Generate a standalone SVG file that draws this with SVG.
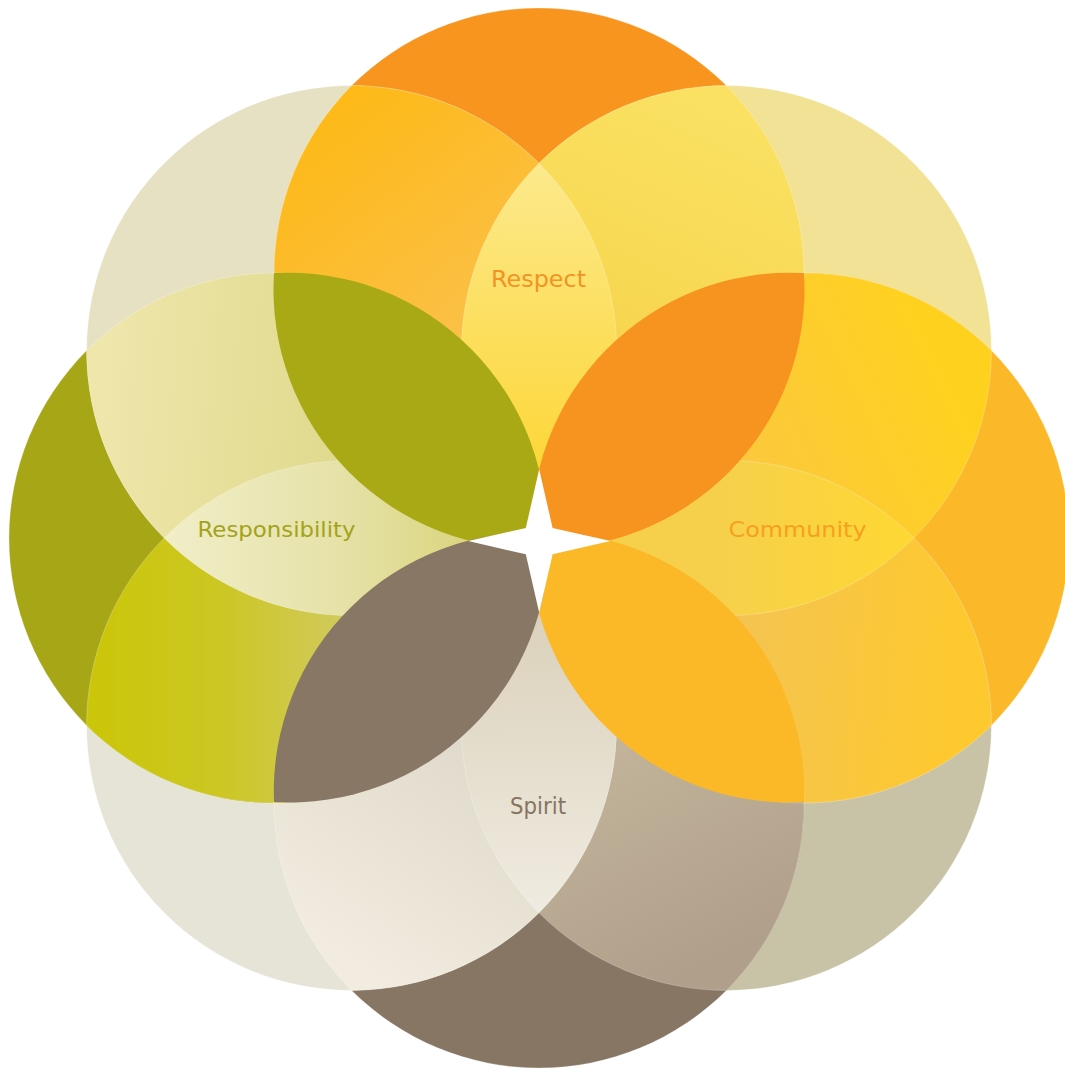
<svg xmlns="http://www.w3.org/2000/svg" width="1065" height="1068" viewBox="0 0 1065 1068">
<style>
.lbl{font-family:"DejaVu Sans","Liberation Sans",sans-serif;text-anchor:middle}
.edge{fill:none;stroke:#fff;stroke-opacity:0.3;stroke-width:0.8}
</style>
<defs>
<circle id="cT" cx="539" cy="273" r="265"/>
<circle id="cUR" cx="726.4" cy="350.6" r="265"/>
<circle id="cR" cx="804" cy="538" r="265"/>
<circle id="cLR" cx="726.4" cy="725.4" r="265"/>
<circle id="cB" cx="539" cy="803" r="265"/>
<circle id="cLL" cx="351.6" cy="725.4" r="265"/>
<circle id="cL" cx="274" cy="538" r="265"/>
<circle id="cUL" cx="351.6" cy="350.6" r="265"/>
<clipPath id="kT"><use href="#cT"/></clipPath>
<clipPath id="kUR"><use href="#cUR"/></clipPath>
<clipPath id="kR"><use href="#cR"/></clipPath>
<clipPath id="kLR"><use href="#cLR"/></clipPath>
<clipPath id="kB"><use href="#cB"/></clipPath>
<clipPath id="kLL"><use href="#cLL"/></clipPath>
<clipPath id="kL"><use href="#cL"/></clipPath>
<clipPath id="kUL"><use href="#cUL"/></clipPath>
<linearGradient id="gTUL" gradientUnits="userSpaceOnUse" x1="300" y1="100" x2="480" y2="330"><stop offset="0" stop-color="#FDB913"/><stop offset="1" stop-color="#FBC048"/></linearGradient>
<linearGradient id="gTUR" gradientUnits="userSpaceOnUse" x1="700" y1="100" x2="600" y2="330"><stop offset="0" stop-color="#FAE162"/><stop offset="1" stop-color="#F7D64F"/></linearGradient>
<linearGradient id="gURR" gradientUnits="userSpaceOnUse" x1="950" y1="380" x2="740" y2="480"><stop offset="0" stop-color="#FFD11F"/><stop offset="1" stop-color="#FBC83E"/></linearGradient>
<linearGradient id="gRLR" gradientUnits="userSpaceOnUse" x1="740" y1="620" x2="960" y2="640"><stop offset="0" stop-color="#F4C451"/><stop offset="1" stop-color="#FEC92E"/></linearGradient>
<linearGradient id="gLRB" gradientUnits="userSpaceOnUse" x1="600" y1="720" x2="720" y2="960"><stop offset="0" stop-color="#C4B59C"/><stop offset="1" stop-color="#B0A08B"/></linearGradient>
<linearGradient id="gBLL" gradientUnits="userSpaceOnUse" x1="470" y1="740" x2="330" y2="950"><stop offset="0" stop-color="#DFDACB"/><stop offset="1" stop-color="#F2ECE0"/></linearGradient>
<linearGradient id="gLLL" gradientUnits="userSpaceOnUse" x1="100" y1="650" x2="345" y2="650"><stop offset="0" stop-color="#CBC60A"/><stop offset="0.5" stop-color="#CCC724"/><stop offset="1" stop-color="#D1CA5E"/></linearGradient>
<linearGradient id="gLUL" gradientUnits="userSpaceOnUse" x1="100" y1="400" x2="340" y2="420"><stop offset="0" stop-color="#EEE6AB"/><stop offset="1" stop-color="#E0DA8E"/></linearGradient>
<linearGradient id="gResp" gradientUnits="userSpaceOnUse" x1="539" y1="165" x2="539" y2="460"><stop offset="0" stop-color="#FCE98C"/><stop offset="1" stop-color="#FDD73A"/></linearGradient>
<linearGradient id="gComm" gradientUnits="userSpaceOnUse" x1="720" y1="540" x2="915" y2="540"><stop offset="0" stop-color="#F6D04B"/><stop offset="1" stop-color="#FED832"/></linearGradient>
<linearGradient id="gSpir" gradientUnits="userSpaceOnUse" x1="539" y1="612" x2="539" y2="910"><stop offset="0" stop-color="#DBD1BB"/><stop offset="1" stop-color="#EFEBE0"/></linearGradient>
<linearGradient id="gRes" gradientUnits="userSpaceOnUse" x1="165" y1="540" x2="470" y2="540"><stop offset="0" stop-color="#F1EEC9"/><stop offset="0.6" stop-color="#E5E1A6"/><stop offset="1" stop-color="#DAD57E"/></linearGradient>
</defs>
<rect width="1065" height="1068" fill="#fff"/>
<g id="circles">
<use href="#cT" fill="#F7951F"/>
<use href="#cUR" fill="#F1E296"/>
<use href="#cR" fill="#FBB829"/>
<use href="#cLR" fill="#C8C3A6"/>
<use href="#cB" fill="#887664"/>
<use href="#cLL" fill="#E6E4D7"/>
<use href="#cL" fill="#A6A617"/>
<use href="#cUL" fill="#E6E1C3"/>
</g>
<g id="overlaps">
<use href="#cUL" clip-path="url(#kT)" fill="url(#gTUL)"/>
<use href="#cUR" clip-path="url(#kT)" fill="url(#gTUR)"/>
<use href="#cR" clip-path="url(#kUR)" fill="url(#gURR)"/>
<use href="#cLR" clip-path="url(#kR)" fill="url(#gRLR)"/>
<use href="#cB" clip-path="url(#kLR)" fill="url(#gLRB)"/>
<use href="#cLL" clip-path="url(#kB)" fill="url(#gBLL)"/>
<use href="#cL" clip-path="url(#kLL)" fill="url(#gLLL)"/>
<use href="#cUL" clip-path="url(#kL)" fill="url(#gLUL)"/>
</g>
<g id="respect">
<use href="#cUR" clip-path="url(#kUL)" fill="url(#gResp)"/>
</g>
<g id="community">
<use href="#cLR" clip-path="url(#kUR)" fill="url(#gComm)"/>
</g>
<g id="spirit">
<use href="#cLL" clip-path="url(#kLR)" fill="url(#gSpir)"/>
</g>
<g id="responsibility">
<use href="#cUL" clip-path="url(#kLL)" fill="url(#gRes)"/>
</g>
<g id="edges">
<use href="#cT" class="edge"/>
<use href="#cUR" class="edge"/>
<use href="#cR" class="edge"/>
<use href="#cLR" class="edge"/>
<use href="#cB" class="edge"/>
<use href="#cLL" class="edge"/>
<use href="#cL" class="edge"/>
<use href="#cUL" class="edge"/>
</g>
<g id="petals">
<path id="petal-olive" d="M274,273 A259,259 0 0 1 546,548 A259,259 0 0 1 274,273 Z" fill="#A8A914"/>
<path id="petal-orange" d="M804,273 A259,259 0 0 0 532,548 A259,259 0 0 0 804,273 Z" fill="#F7941F"/>
<path id="petal-gold" d="M804,802 A259,259 0 0 1 529.8,533 A259,259 0 0 1 804,802 Z" fill="#FBB827"/>
<path id="petal-brown" d="M274,802 A259,259 0 0 0 548.2,533 A259,259 0 0 0 274,802 Z" fill="#887764"/>
</g>
<g id="star">
<path d="M539.2,469.3 L552.6,528 L610.3,541 L552.6,554.3 L539.2,612.7 L525.8,554.3 L468.2,541 L525.8,528 Z" fill="#fff"/>
</g>
<g id="labels">
<text class="lbl" x="538.5" y="286.7" font-size="22.5" fill="#F39323" textLength="95" lengthAdjust="spacingAndGlyphs">Respect</text>
<text class="lbl" x="797.5" y="536.7" font-size="20.5" fill="#F7A020" textLength="138" lengthAdjust="spacingAndGlyphs">Community</text>
<text class="lbl" x="538" y="813.5" font-size="23.5" fill="#857462" textLength="56" lengthAdjust="spacingAndGlyphs">Spirit</text>
<text class="lbl" x="276.5" y="536.7" font-size="20.5" fill="#A3A31A" textLength="158" lengthAdjust="spacingAndGlyphs">Responsibility</text>
</g>
</svg>
